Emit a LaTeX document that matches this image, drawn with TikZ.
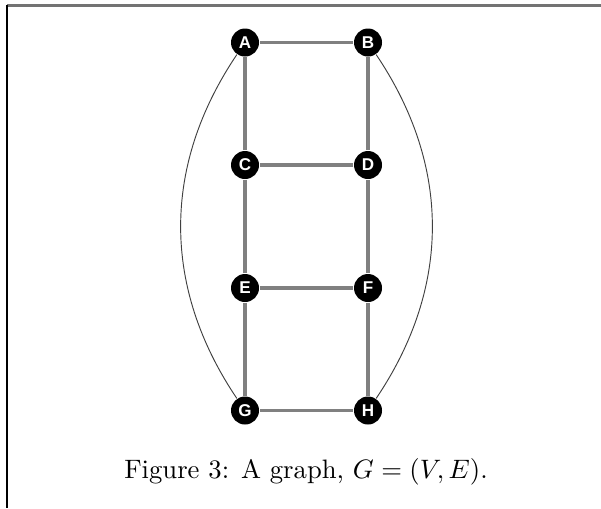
\documentclass[tikz,border=0pt]{standalone}
\usepackage{fontspec}
\newfontfamily\nodefont{Liberation Sans}
\begin{document}
\begin{tikzpicture}[x=0.375pt,y=-0.375pt,
  vtx/.style={circle,fill=black,inner sep=0pt,minimum size=10.5pt,text=white,font=\nodefont\bfseries\fontsize{6.4}{7}\selectfont},
  edge/.style={draw=black!50,line width=1.2pt},
  arcedge/.style={draw=black!75,line width=0.35pt}]
\useasboundingbox (0,0) rectangle (601,508);
\draw[black!55,line width=0.8pt] (7,5.5) -- (601,5.5);
\draw[black,line width=0.6pt] (7,5) -- (7,508);
\node[vtx] (A) at (245,42.5) {A};
\node[vtx] (B) at (368,42.5) {B};
\node[vtx] (C) at (245,165) {C};
\node[vtx] (D) at (368,165) {D};
\node[vtx] (E) at (245,288) {E};
\node[vtx] (F) at (368,288) {F};
\node[vtx] (G) at (245,410.5) {G};
\node[vtx] (H) at (368,410.5) {H};
\draw[edge] (A) -- (B);
\draw[edge] (C) -- (D);
\draw[edge] (E) -- (F);
\draw[edge] (G) -- (H);
\draw[edge] (A) -- (C);
\draw[edge] (C) -- (E);
\draw[edge] (E) -- (G);
\draw[edge] (B) -- (D);
\draw[edge] (D) -- (F);
\draw[edge] (F) -- (H);
\draw[arcedge] (A) to[bend right=34] (G);
\draw[arcedge] (B) to[bend left=34] (H);
\node[font=\fontsize{10}{12}\selectfont] (cap) at (306,472) {Figure 3: A graph, $G=(V,E)$.};
\end{tikzpicture}
\end{document}
